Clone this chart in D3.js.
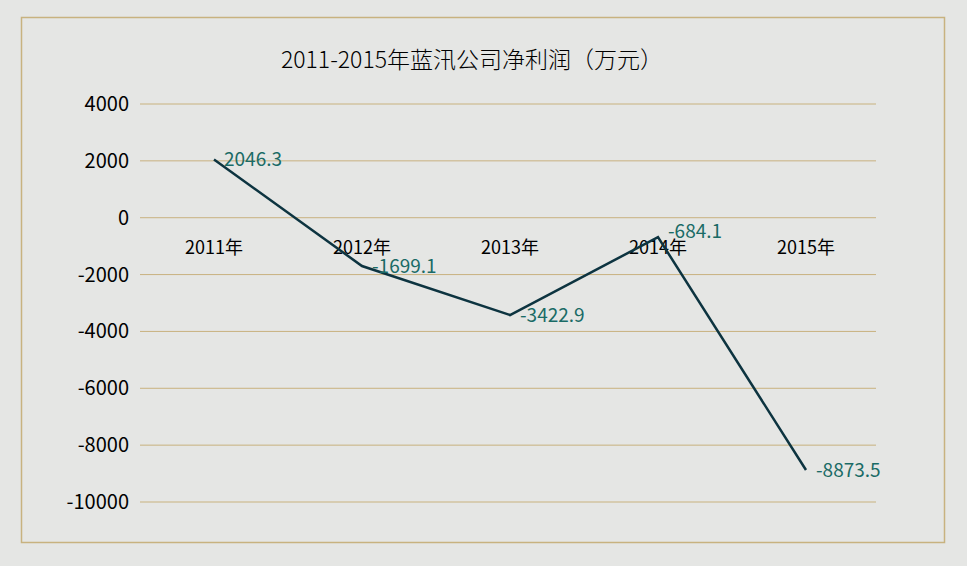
<!DOCTYPE html>
<html><head><meta charset="utf-8">
<script src="https://cdn.jsdelivr.net/npm/d3@7"></script>
<style>body{margin:0;background:#e5e6e4;font-family:"Noto Sans CJK SC","Noto Sans",sans-serif}</style>
</head><body><div id="chart"></div>
<script>
const years = ['2011年', '2012年', '2013年', '2014年', '2015年']
const profit = [2046.3, -1699.1, -3422.9, -684.1, -8873.5]
const yTicks = [4000, 2000, 0, -2000, -4000, -6000, -8000, -10000]

const width = 967, height = 566
const svg = d3.select('#chart').append('svg')
  .attr('width', width).attr('height', height)

svg.append('rect').attr('x', 21.5).attr('y', 17.5).attr('width', 923).attr('height', 525)
  .attr('fill', '#e5e6e4').attr('stroke', '#c8b27f').attr('stroke-width', 1.5)

svg.append('text').attr('x', 472).attr('y', 68).attr('text-anchor', 'middle')
  .attr('font-size', 23).attr('font-weight', 300).attr('fill', '#000')
  .text('2011-2015年蓝汛公司净利润（万元）')

const x = d3.scaleBand().domain(years).range([140, 880])
const y = d3.scaleLinear().domain([-10000, 4000]).range([502, 104])

svg.append('g').selectAll('line').data(yTicks).join('line')
  .attr('x1', 140).attr('x2', 876)
  .attr('y1', d => y(d)).attr('y2', d => y(d))
  .attr('stroke', '#c8b27f').attr('stroke-width', 1)

svg.append('g').selectAll('text').data(yTicks).join('text')
  .attr('x', 129).attr('y', d => y(d)).attr('dy', '0.35em')
  .attr('text-anchor', 'end').attr('font-size', 20).attr('fill', '#000')
  .text(d => d)

svg.append('g').selectAll('text').data(years).join('text')
  .attr('x', d => x(d) + x.bandwidth() / 2).attr('y', y(0) + 36)
  .attr('text-anchor', 'middle').attr('font-size', 18).attr('fill', '#000')
  .text(d => d)

const pts = years.map((c, i) => [x(c) + x.bandwidth() / 2, y(profit[i])])

svg.append('path').datum(pts)
  .attr('d', d3.line())
  .attr('fill', 'none').attr('stroke', '#0d3440').attr('stroke-width', 2.5)

svg.append('g').selectAll('text').data(pts).join('text')
  .attr('x', d => d[0] + 10).attr('y', (d, i) => d[1] + (i === 3 ? -6 : 0)).attr('dy', '0.35em')
  .attr('font-size', 19).attr('fill', '#1a6b66')
  .text((d, i) => profit[i])
</script>
</body></html>
